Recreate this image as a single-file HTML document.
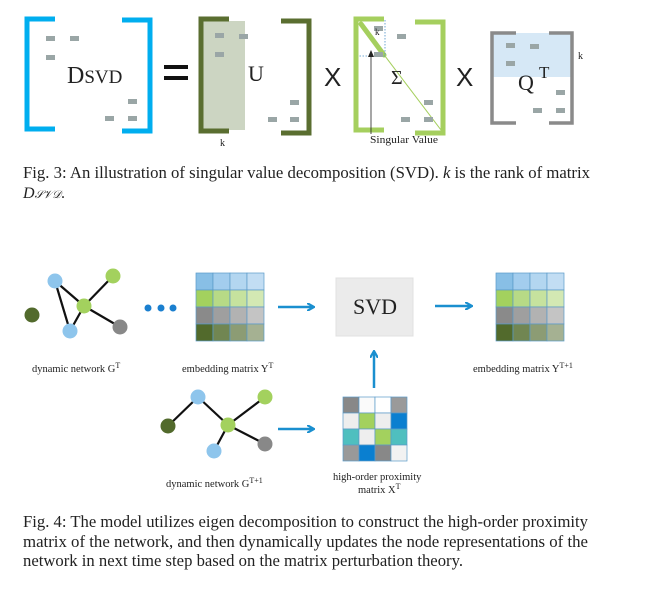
<!DOCTYPE html>
<html><head><meta charset="utf-8"><style>
html,body{margin:0;padding:0;background:#fff;}
svg{display:block;}
text{font-family:"Liberation Serif",serif;fill:#222;}
</style></head><body>
<svg width="672" height="598" viewBox="0 0 672 598" xmlns="http://www.w3.org/2000/svg">
<defs>
<marker id="ah" markerWidth="8" markerHeight="8" refX="6" refY="4" orient="auto" markerUnits="userSpaceOnUse"><path d="M0,0 L7,4 L0,8" fill="none" stroke="#1a8fcf" stroke-width="2.2"/></marker>
<marker id="ak" markerWidth="8" markerHeight="8" refX="6" refY="4" orient="auto" markerUnits="userSpaceOnUse"><path d="M0,1 L7,4 L0,7 Z" fill="#222"/></marker>
</defs>
<g fill="none" stroke="#00aeef" stroke-width="5">
<path d="M55,19 H27 V129 H55"/><path d="M122,20 H150 V131 H122"/>
</g>
<g fill="#9aa6a6">
<rect x="46" y="36" width="9" height="5"/><rect x="70" y="36" width="9" height="5"/><rect x="46" y="55" width="9" height="5"/>
<rect x="128" y="99" width="9" height="5"/><rect x="105" y="116" width="9" height="5"/><rect x="128" y="116" width="9" height="5"/>
</g>
<text x="67" y="83" font-size="24">D<tspan font-size="19">SVD</tspan></text>
<rect x="164" y="65" width="24" height="4" fill="#111"/><rect x="164" y="76" width="24" height="4" fill="#111"/>
<rect x="203" y="21" width="42" height="109" fill="#ccd5c2"/>
<g fill="none" stroke="#5a6e30" stroke-width="5">
<path d="M229,19 H201 V131 H229"/><path d="M281,21 H309 V133 H281"/>
</g>
<g fill="#9aa6a6">
<rect x="215" y="33" width="9" height="5"/><rect x="239" y="34" width="9" height="5"/><rect x="215" y="52" width="9" height="5"/>
<rect x="290" y="100" width="9" height="5"/><rect x="268" y="117" width="9" height="5"/><rect x="290" y="117" width="9" height="5"/>
</g>
<text x="248" y="81" font-size="22">U</text>
<text x="220" y="146" font-size="10">k</text>
<text x="324" y="86" font-size="26" style="font-family:'Liberation Sans',sans-serif">X</text>
<g fill="none" stroke="#a5cf5e" stroke-width="5">
<path d="M384,19 H356 V130 H384"/><path d="M415,22 H443 V133 H415"/>
</g>
<line x1="360" y1="23" x2="441" y2="130" stroke="#a5cf5e" stroke-width="1"/>
<line x1="361" y1="24" x2="384" y2="55" stroke="#a5cf5e" stroke-width="5" stroke-linecap="round"/>
<path d="M385,20 V56 H358" fill="none" stroke="#4a90c8" stroke-width="0.8" stroke-dasharray="1.5,1.5"/>
<g fill="#9aa6a6">
<rect x="374" y="26" width="9" height="5"/><rect x="397" y="34" width="9" height="5"/><rect x="374" y="52" width="9" height="5"/>
<rect x="424" y="100" width="9" height="5"/><rect x="401" y="117" width="9" height="5"/><rect x="424" y="117" width="9" height="5"/>
</g>
<text x="375" y="35" font-size="9">k</text>
<text x="391" y="84" font-size="20">Σ</text>
<line x1="371" y1="134" x2="371" y2="51" stroke="#222" stroke-width="0.8" marker-end="url(#ak)"/>
<text x="370" y="143" font-size="11" textLength="68" lengthAdjust="spacingAndGlyphs">Singular Value</text>
<text x="456" y="86" font-size="26" style="font-family:'Liberation Sans',sans-serif">X</text>
<rect x="493" y="33" width="78" height="44" fill="#d6e8f6"/>
<g fill="none" stroke="#8a8a8a" stroke-width="3.5">
<path d="M516,33 H492 V123 H516"/><path d="M549,33 H572 V123 H549"/>
</g>
<g fill="#9aa6a6">
<rect x="506" y="43" width="9" height="5"/><rect x="530" y="44" width="9" height="5"/><rect x="506" y="61" width="9" height="5"/>
<rect x="556" y="90" width="9" height="5"/><rect x="533" y="108" width="9" height="5"/><rect x="556" y="108" width="9" height="5"/>
</g>
<text x="518" y="90" font-size="22">Q</text><text x="539" y="78" font-size="17">T</text>
<text x="578" y="59" font-size="10">k</text>
<text x="23" y="178" font-size="16.5" textLength="567" lengthAdjust="spacingAndGlyphs">Fig. 3: An illustration of singular value decomposition (SVD). <tspan font-style="italic">k</tspan> is the rank of matrix</text>
<text x="23" y="198" font-size="16" font-style="italic">D<tspan font-size="11">𝒮𝒱𝒟</tspan><tspan font-style="normal">.</tspan></text>
<g stroke="#111" stroke-width="2.2">
<line x1="55" y1="281" x2="70" y2="331"/><line x1="55" y1="281" x2="84" y2="306"/>
<line x1="113" y1="276" x2="84" y2="306"/><line x1="84" y1="306" x2="70" y2="331"/><line x1="84" y1="306" x2="120" y2="327"/>
</g>
<circle cx="55" cy="281" r="7.5" fill="#8ec5ec"/><circle cx="113" cy="276" r="7.5" fill="#a3d15e"/>
<circle cx="84" cy="306" r="7.5" fill="#a3d15e"/><circle cx="70" cy="331" r="7.5" fill="#8ec5ec"/>
<circle cx="32" cy="315" r="7.5" fill="#526a2c"/><circle cx="120" cy="327" r="7.5" fill="#888"/>
<circle cx="148" cy="308" r="3.5" fill="#1a7fcf"/><circle cx="161" cy="308" r="3.5" fill="#1a7fcf"/><circle cx="173" cy="308" r="3.5" fill="#1a7fcf"/>
<g stroke="#5a9ac8" stroke-width="0.7">
<rect x="196" y="273" width="17" height="17" fill="#88bfe6"/><rect x="213" y="273" width="17" height="17" fill="#a3cdee"/><rect x="230" y="273" width="17" height="17" fill="#b3d6f0"/><rect x="247" y="273" width="17" height="17" fill="#c2ddf3"/>
<rect x="196" y="290" width="17" height="17" fill="#a3d15e"/><rect x="213" y="290" width="17" height="17" fill="#b7da86"/><rect x="230" y="290" width="17" height="17" fill="#c6e29e"/><rect x="247" y="290" width="17" height="17" fill="#d3e8b3"/>
<rect x="196" y="307" width="17" height="17" fill="#8a8a8a"/><rect x="213" y="307" width="17" height="17" fill="#9f9f9f"/><rect x="230" y="307" width="17" height="17" fill="#b2b2b2"/><rect x="247" y="307" width="17" height="17" fill="#c4c4c4"/>
<rect x="196" y="324" width="17" height="17" fill="#526a2c"/><rect x="213" y="324" width="17" height="17" fill="#718652"/><rect x="230" y="324" width="17" height="17" fill="#8c9c74"/><rect x="247" y="324" width="17" height="17" fill="#a5b192"/>
</g>
<line x1="278" y1="307" x2="313" y2="307" stroke="#1a8fcf" stroke-width="2.5" marker-end="url(#ah)"/>
<rect x="336" y="278" width="77" height="58" fill="#ebebeb" stroke="#e0e0e0"/>
<text x="353" y="314" font-size="22">SVD</text>
<line x1="435" y1="306" x2="471" y2="306" stroke="#1a8fcf" stroke-width="2.5" marker-end="url(#ah)"/>
<g stroke="#5a9ac8" stroke-width="0.7">
<rect x="496" y="273" width="17" height="17" fill="#88bfe6"/><rect x="513" y="273" width="17" height="17" fill="#a3cdee"/><rect x="530" y="273" width="17" height="17" fill="#b3d6f0"/><rect x="547" y="273" width="17" height="17" fill="#c2ddf3"/>
<rect x="496" y="290" width="17" height="17" fill="#a3d15e"/><rect x="513" y="290" width="17" height="17" fill="#b7da86"/><rect x="530" y="290" width="17" height="17" fill="#c6e29e"/><rect x="547" y="290" width="17" height="17" fill="#d3e8b3"/>
<rect x="496" y="307" width="17" height="17" fill="#8a8a8a"/><rect x="513" y="307" width="17" height="17" fill="#9f9f9f"/><rect x="530" y="307" width="17" height="17" fill="#b2b2b2"/><rect x="547" y="307" width="17" height="17" fill="#c4c4c4"/>
<rect x="496" y="324" width="17" height="17" fill="#526a2c"/><rect x="513" y="324" width="17" height="17" fill="#718652"/><rect x="530" y="324" width="17" height="17" fill="#8c9c74"/><rect x="547" y="324" width="17" height="17" fill="#a5b192"/>
</g>
<text x="32" y="372" font-size="10.5">dynamic network  G<tspan font-size="8" dy="-4">T</tspan></text>
<text x="182" y="372" font-size="10.5">embedding matrix Y<tspan font-size="8" dy="-4">T</tspan></text>
<text x="473" y="372" font-size="10.5">embedding matrix Y<tspan font-size="8" dy="-4">T+1</tspan></text>
<line x1="374" y1="388" x2="374" y2="352" stroke="#1a8fcf" stroke-width="2.5" marker-end="url(#ah)"/>
<g stroke="#5a9ac8" stroke-width="0.7">
<rect x="343" y="397" width="16" height="16" fill="#888"/><rect x="359" y="397" width="16" height="16" fill="#fafafa"/><rect x="375" y="397" width="16" height="16" fill="#fff"/><rect x="391" y="397" width="16" height="16" fill="#9a9a9a"/>
<rect x="343" y="413" width="16" height="16" fill="#eee"/><rect x="359" y="413" width="16" height="16" fill="#a3d15e"/><rect x="375" y="413" width="16" height="16" fill="#eee"/><rect x="391" y="413" width="16" height="16" fill="#0a7fd0"/>
<rect x="343" y="429" width="16" height="16" fill="#4fbfbf"/><rect x="359" y="429" width="16" height="16" fill="#eee"/><rect x="375" y="429" width="16" height="16" fill="#a3d15e"/><rect x="391" y="429" width="16" height="16" fill="#4fbfbf"/>
<rect x="343" y="445" width="16" height="16" fill="#999"/><rect x="359" y="445" width="16" height="16" fill="#0a7fd0"/><rect x="375" y="445" width="16" height="16" fill="#888"/><rect x="391" y="445" width="16" height="16" fill="#f2f2f2"/>
</g>
<text x="333" y="480" font-size="10.5">high-order proximity</text>
<text x="358" y="493" font-size="10.5">matrix X<tspan font-size="8" dy="-4">T</tspan></text>
<g stroke="#111" stroke-width="2.2">
<line x1="168" y1="426" x2="198" y2="397"/><line x1="198" y1="397" x2="228" y2="425"/>
<line x1="265" y1="397" x2="228" y2="425"/><line x1="228" y1="425" x2="214" y2="451"/><line x1="228" y1="425" x2="265" y2="444"/>
</g>
<circle cx="198" cy="397" r="7.5" fill="#8ec5ec"/><circle cx="265" cy="397" r="7.5" fill="#a3d15e"/>
<circle cx="228" cy="425" r="7.5" fill="#a3d15e"/><circle cx="214" cy="451" r="7.5" fill="#8ec5ec"/>
<circle cx="168" cy="426" r="7.5" fill="#526a2c"/><circle cx="265" cy="444" r="7.5" fill="#888"/>
<line x1="278" y1="429" x2="313" y2="429" stroke="#1a8fcf" stroke-width="2.5" marker-end="url(#ah)"/>
<text x="166" y="487" font-size="10.5">dynamic network  G<tspan font-size="8" dy="-4">T+1</tspan></text>
<text x="23" y="527" font-size="16.5" textLength="565" lengthAdjust="spacingAndGlyphs">Fig. 4: The model utilizes eigen decomposition to construct the high-order proximity</text>
<text x="23" y="547" font-size="16.5" textLength="565" lengthAdjust="spacingAndGlyphs">matrix of the network, and then dynamically updates the node representations of the</text>
<text x="23" y="566" font-size="16.5" textLength="440" lengthAdjust="spacingAndGlyphs">network in next time step based on the matrix perturbation theory.</text>
</svg>
</body></html>
